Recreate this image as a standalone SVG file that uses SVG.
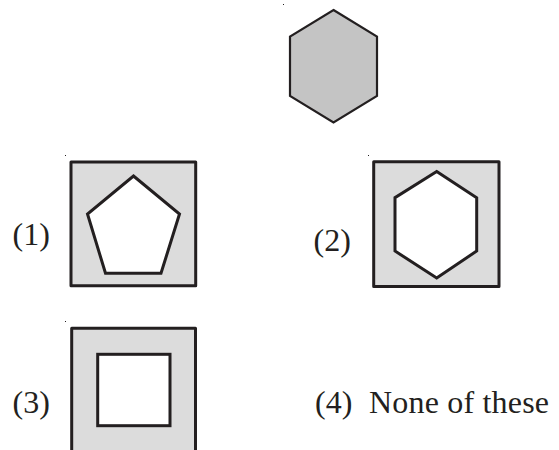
<svg xmlns="http://www.w3.org/2000/svg" width="559" height="450" viewBox="0 0 559 450">
<style>
.frame{fill:#dcdcdc;stroke:#231f20;stroke-width:3;stroke-linejoin:round}
.inner{fill:#ffffff;stroke:#231f20;stroke-width:3;stroke-linejoin:miter}
.lbl{font-family:"Liberation Serif","Times New Roman",serif;font-size:32px;fill:#231f20}
.dot{fill:#231f20}
</style>
<rect width="559" height="450" fill="#ffffff"/>
<g id="question">
<rect class="dot" x="283" y="4" width="1" height="1"/>
<polygon points="333.5,10 377,36.5 377,96 333.5,122.5 290,96 290,36.5" fill="#c4c4c4" stroke="#231f20" stroke-width="2.2"/>
</g>
<g id="option1">
<text class="lbl" x="12.5" y="245">(1)</text>
<rect class="dot" x="65" y="155" width="1" height="1"/>
<rect class="frame" x="71" y="162" width="124.7" height="123.7"/>
<polygon class="inner" points="133.5,176 179.5,214 161,273.3 105.5,273.3 87.5,214"/>
</g>
<g id="option2">
<text class="lbl" x="313.5" y="251">(2)</text>
<rect class="dot" x="368" y="155" width="1" height="1"/>
<rect class="frame" x="373.7" y="161.7" width="125.3" height="124.8"/>
<polygon class="inner" points="436.7,171.5 476.7,197.7 476.7,251 436.7,278 395,251 395,197.7"/>
</g>
<g id="option3">
<text class="lbl" x="12.5" y="413">(3)</text>
<rect class="dot" x="65" y="321" width="1" height="1"/>
<path d="M71.7,452 V328.3 H195.5 V452" fill="#dcdcdc" stroke="#231f20" stroke-width="3" stroke-linejoin="round"/>
<rect class="inner" x="97.7" y="354.3" width="72.3" height="71.4"/>
</g>
<g id="option4">
<text class="lbl" x="315" y="413">(4)</text>
<text class="lbl" x="369" y="413" textLength="180" lengthAdjust="spacing">None of these</text>
</g>
<g id="connectors"/>
</svg>
